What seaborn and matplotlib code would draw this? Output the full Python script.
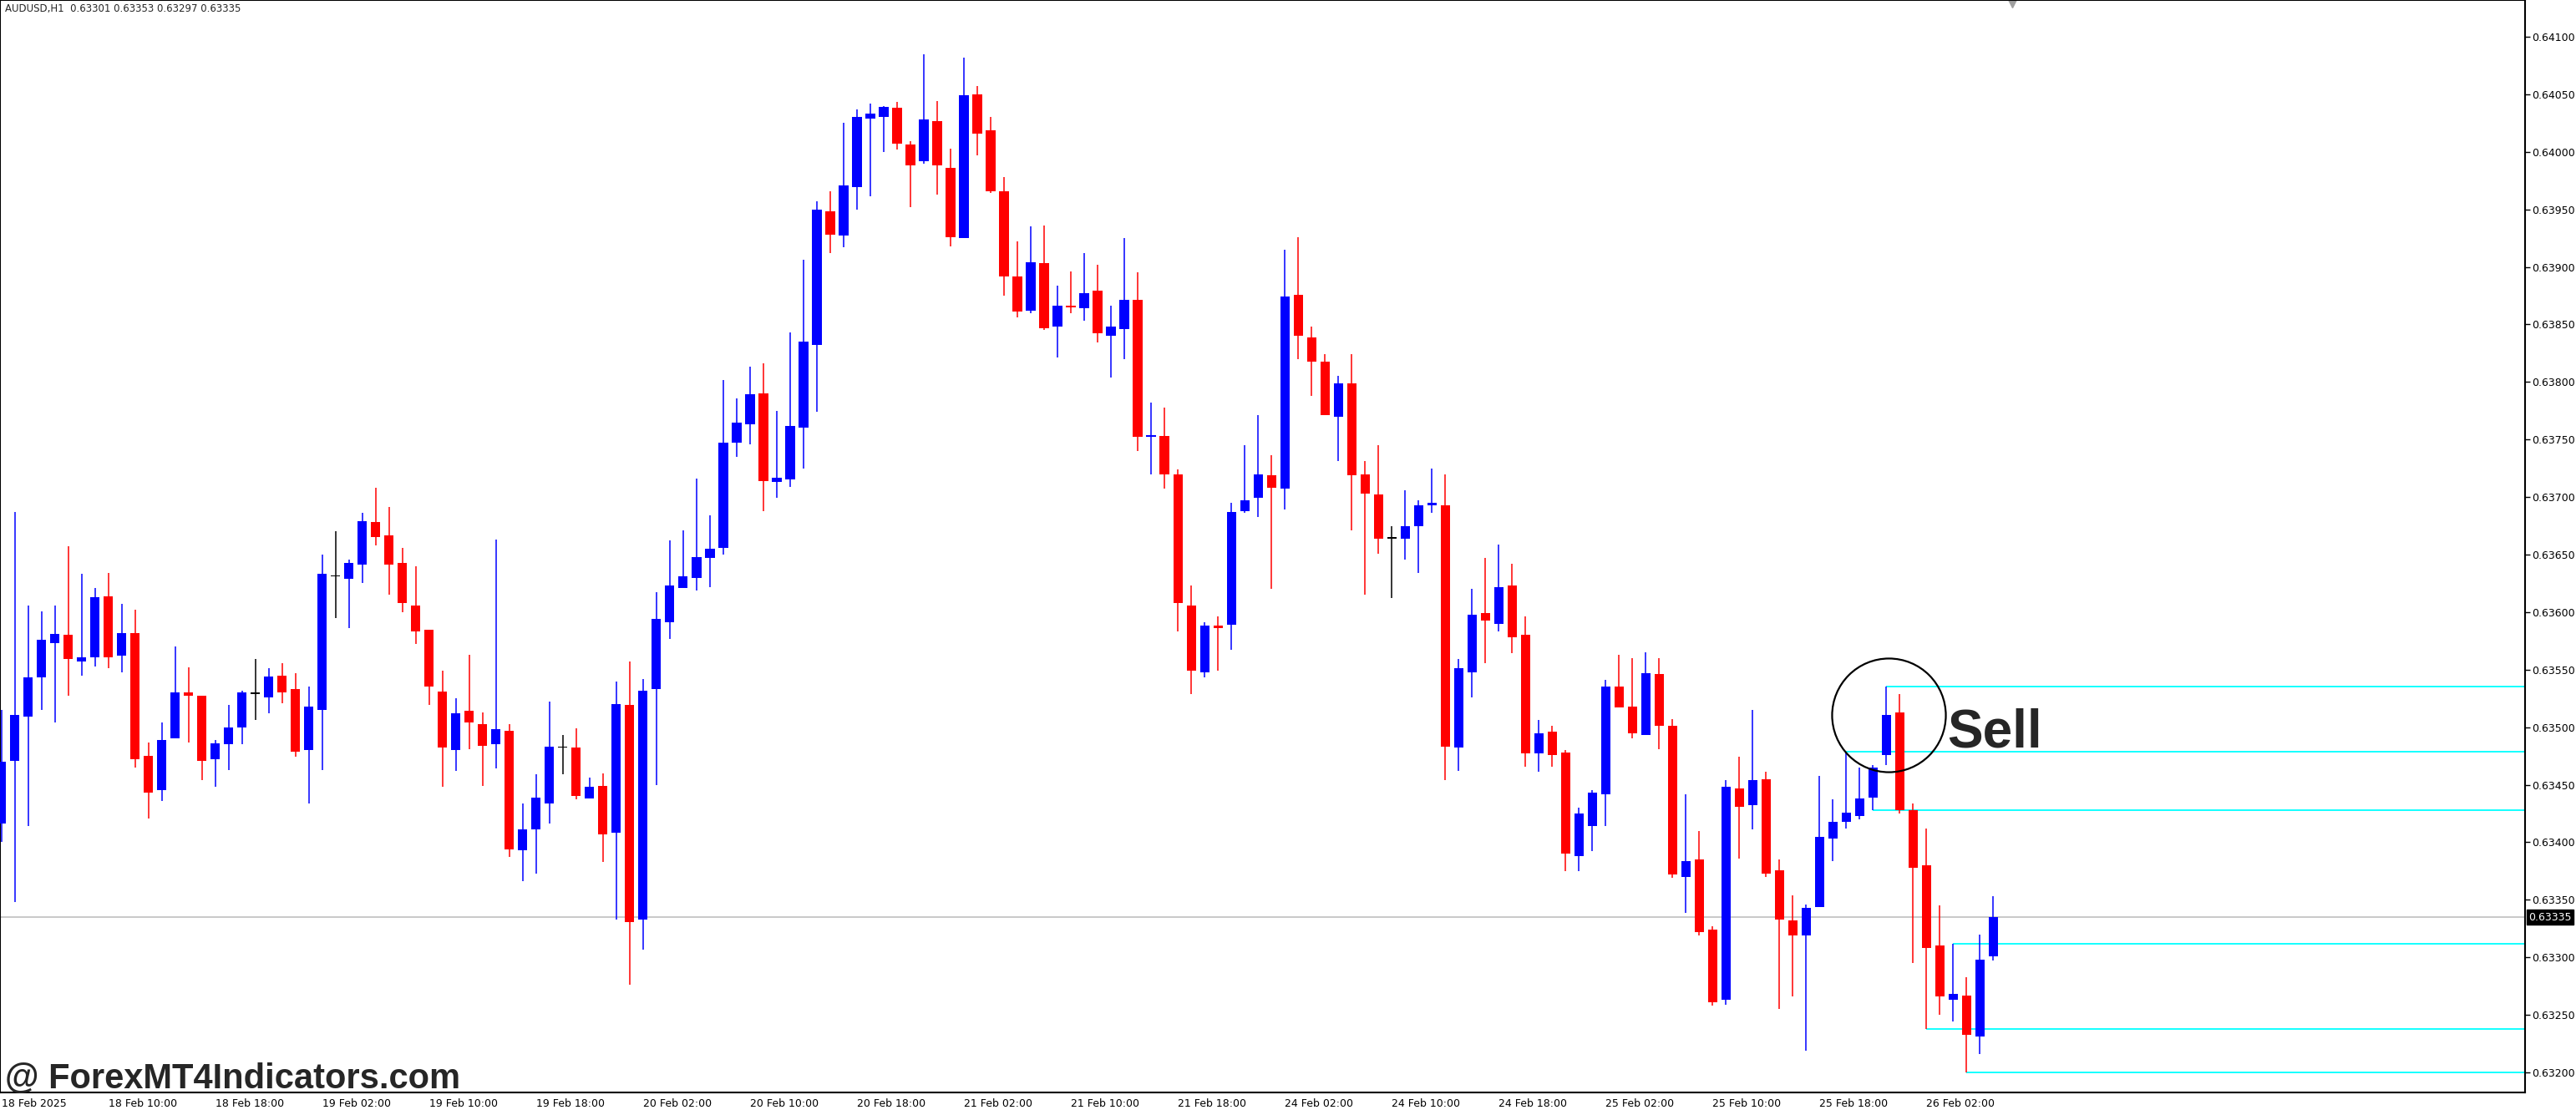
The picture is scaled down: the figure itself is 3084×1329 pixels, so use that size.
import matplotlib
matplotlib.use('Agg')
import numpy as np
import matplotlib.pyplot as plt
import matplotlib.transforms as mtransforms
import seaborn as sns

sns.set_style("white")
plt.rcParams['font.family'] = ['DejaVu Sans']

# AUDUSD H1 candles
opens = [0.63416, 0.63471, 0.63509, 0.63543, 0.63573, 0.63580, 0.63557, 0.63561, 0.63614, 0.63562,
         0.63582, 0.63475, 0.63445, 0.63490, 0.63530, 0.63527, 0.63472, 0.63485, 0.63500, 0.63529,
         0.63526, 0.63545, 0.63533, 0.63480, 0.63515, 0.63631, 0.63629, 0.63641, 0.63678, 0.63667,
         0.63643, 0.63606, 0.63585, 0.63531, 0.63480, 0.63514, 0.63503, 0.63485, 0.63497, 0.63393,
         0.63411, 0.63434, 0.63482, 0.63482, 0.63438, 0.63449, 0.63408, 0.63519, 0.63333, 0.63533,
         0.63591, 0.63621, 0.63630, 0.63647, 0.63656, 0.63747, 0.63763, 0.63790, 0.63713, 0.63715,
         0.63760, 0.63832, 0.63948, 0.63927, 0.63969, 0.64029, 0.64030, 0.64038, 0.64006, 0.63992,
         0.64027, 0.63986, 0.63925, 0.64050, 0.64019, 0.63966, 0.63892, 0.63862, 0.63903, 0.63848,
         0.63866, 0.63864, 0.63879, 0.63840, 0.63846, 0.63871, 0.63752, 0.63753, 0.63720, 0.63606,
         0.63548, 0.63588, 0.63589, 0.63688, 0.63699, 0.63719, 0.63707, 0.63876, 0.63839, 0.63818,
         0.63770, 0.63799, 0.63720, 0.63702, 0.63664, 0.63664, 0.63675, 0.63693, 0.63693, 0.63482,
         0.63548, 0.63599, 0.63590, 0.63623, 0.63580, 0.63477, 0.63496, 0.63478, 0.63388, 0.63414,
         0.63442, 0.63535, 0.63518, 0.63493, 0.63546, 0.63501, 0.63370, 0.63385, 0.63324, 0.63263,
         0.63447, 0.63432, 0.63455, 0.63376, 0.63332, 0.63319, 0.63344, 0.63403, 0.63418, 0.63423,
         0.63439, 0.63476, 0.63513, 0.63428, 0.63380, 0.63310, 0.63263, 0.63267, 0.63231, 0.63301]
highs = [0.63515, 0.63687, 0.63606, 0.63601, 0.63606, 0.63657, 0.63633, 0.63621, 0.63634, 0.63607,
         0.63602, 0.63487, 0.63504, 0.63570, 0.63552, 0.63527, 0.63489, 0.63519, 0.63532, 0.63559,
         0.63551, 0.63556, 0.63547, 0.63535, 0.63650, 0.63670, 0.63646, 0.63686, 0.63708, 0.63691,
         0.63656, 0.63640, 0.63585, 0.63549, 0.63525, 0.63563, 0.63513, 0.63663, 0.63503, 0.63434,
         0.63459, 0.63522, 0.63493, 0.63499, 0.63456, 0.63460, 0.63540, 0.63557, 0.63542, 0.63617,
         0.63662, 0.63671, 0.63716, 0.63684, 0.63802, 0.63786, 0.63813, 0.63816, 0.63775, 0.63843,
         0.63906, 0.63957, 0.63966, 0.64025, 0.64037, 0.64042, 0.64040, 0.64043, 0.64009, 0.64085,
         0.64044, 0.64003, 0.64082, 0.64057, 0.64030, 0.63978, 0.63922, 0.63935, 0.63936, 0.63884,
         0.63896, 0.63912, 0.63902, 0.63866, 0.63925, 0.63895, 0.63782, 0.63778, 0.63724, 0.63623,
         0.63591, 0.63596, 0.63695, 0.63745, 0.63771, 0.63736, 0.63915, 0.63926, 0.63848, 0.63824,
         0.63805, 0.63824, 0.63731, 0.63745, 0.63675, 0.63706, 0.63697, 0.63725, 0.63720, 0.63559,
         0.63620, 0.63647, 0.63659, 0.63642, 0.63596, 0.63506, 0.63501, 0.63480, 0.63430, 0.63445,
         0.63541, 0.63563, 0.63560, 0.63565, 0.63560, 0.63507, 0.63442, 0.63410, 0.63327, 0.63454,
         0.63474, 0.63515, 0.63461, 0.63385, 0.63354, 0.63346, 0.63458, 0.63437, 0.63479, 0.63465,
         0.63467, 0.63535, 0.63529, 0.63434, 0.63412, 0.63345, 0.63312, 0.63283, 0.63320, 0.63353]
lows = [0.63400, 0.63348, 0.63414, 0.63515, 0.63504, 0.63527, 0.63545, 0.63553, 0.63551, 0.63548,
        0.63465, 0.63421, 0.63436, 0.63490, 0.63487, 0.63454, 0.63448, 0.63463, 0.63485, 0.63506,
        0.63512, 0.63521, 0.63474, 0.63434, 0.63463, 0.63595, 0.63586, 0.63625, 0.63658, 0.63615,
        0.63600, 0.63572, 0.63519, 0.63448, 0.63462, 0.63481, 0.63449, 0.63464, 0.63387, 0.63366,
        0.63373, 0.63416, 0.63459, 0.63437, 0.63438, 0.63383, 0.63333, 0.63276, 0.63307, 0.63450,
        0.63577, 0.63621, 0.63619, 0.63622, 0.63650, 0.63735, 0.63746, 0.63688, 0.63699, 0.63709,
        0.63725, 0.63774, 0.63912, 0.63917, 0.63950, 0.63961, 0.64000, 0.64002, 0.63952, 0.63990,
        0.63963, 0.63918, 0.63925, 0.63997, 0.63964, 0.63875, 0.63856, 0.63860, 0.63845, 0.63821,
        0.63860, 0.63853, 0.63834, 0.63804, 0.63820, 0.63740, 0.63720, 0.63707, 0.63583, 0.63529,
        0.63543, 0.63549, 0.63567, 0.63686, 0.63683, 0.63620, 0.63689, 0.63820, 0.63788, 0.63771,
        0.63731, 0.63671, 0.63615, 0.63651, 0.63612, 0.63646, 0.63634, 0.63686, 0.63454, 0.63462,
        0.63526, 0.63556, 0.63583, 0.63564, 0.63466, 0.63461, 0.63466, 0.63375, 0.63375, 0.63392,
        0.63414, 0.63517, 0.63490, 0.63493, 0.63481, 0.63369, 0.63339, 0.63319, 0.63258, 0.63259,
        0.63386, 0.63411, 0.63370, 0.63255, 0.63266, 0.63219, 0.63344, 0.63384, 0.63412, 0.63420,
        0.63428, 0.63467, 0.63425, 0.63295, 0.63238, 0.63250, 0.63244, 0.63200, 0.63216, 0.63297]
closes = [0.63470, 0.63511, 0.63543, 0.63576, 0.63581, 0.63559, 0.63561, 0.63613, 0.63561, 0.63582,
          0.63472, 0.63443, 0.63489, 0.63530, 0.63527, 0.63471, 0.63486, 0.63500, 0.63530, 0.63529,
          0.63544, 0.63530, 0.63479, 0.63518, 0.63633, 0.63631, 0.63643, 0.63679, 0.63665, 0.63641,
          0.63608, 0.63583, 0.63535, 0.63482, 0.63512, 0.63504, 0.63484, 0.63498, 0.63394, 0.63411,
          0.63439, 0.63483, 0.63482, 0.63440, 0.63448, 0.63407, 0.63520, 0.63331, 0.63532, 0.63594,
          0.63623, 0.63631, 0.63648, 0.63655, 0.63747, 0.63765, 0.63789, 0.63714, 0.63717, 0.63762,
          0.63835, 0.63950, 0.63928, 0.63971, 0.64030, 0.64033, 0.64039, 0.64007, 0.63988, 0.64028,
          0.63988, 0.63926, 0.64049, 0.64016, 0.63966, 0.63892, 0.63861, 0.63904, 0.63847, 0.63866,
          0.63865, 0.63877, 0.63842, 0.63848, 0.63871, 0.63752, 0.63754, 0.63720, 0.63608, 0.63549,
          0.63588, 0.63586, 0.63687, 0.63697, 0.63720, 0.63708, 0.63874, 0.63840, 0.63818, 0.63771,
          0.63799, 0.63719, 0.63703, 0.63664, 0.63664, 0.63675, 0.63693, 0.63695, 0.63483, 0.63551,
          0.63598, 0.63593, 0.63622, 0.63578, 0.63477, 0.63495, 0.63476, 0.63390, 0.63425, 0.63443,
          0.63535, 0.63517, 0.63495, 0.63547, 0.63501, 0.63372, 0.63384, 0.63322, 0.63261, 0.63448,
          0.63431, 0.63454, 0.63373, 0.63333, 0.63319, 0.63343, 0.63405, 0.63418, 0.63426, 0.63438,
          0.63465, 0.63511, 0.63428, 0.63378, 0.63308, 0.63266, 0.63268, 0.63233, 0.63298, 0.63335]

# horizontal levels: (start candle, price)
level_starts = [141, 138, 140, 146, 144, 147]
level_prices = [0.63535, 0.63479, 0.63428, 0.63312, 0.63238, 0.63200]

tick_labels = ['18 Feb 2025', '18 Feb 10:00', '18 Feb 18:00', '19 Feb 02:00', '19 Feb 10:00',
               '19 Feb 18:00', '20 Feb 02:00', '20 Feb 10:00', '20 Feb 18:00', '21 Feb 02:00',
               '21 Feb 10:00', '21 Feb 18:00', '24 Feb 02:00', '24 Feb 10:00', '24 Feb 18:00',
               '25 Feb 02:00', '25 Feb 10:00', '25 Feb 18:00', '26 Feb 02:00']
price_ticks = [0.63200, 0.63250, 0.63300, 0.63350, 0.63400, 0.63450, 0.63500, 0.63550, 0.63600,
               0.63650, 0.63700, 0.63750, 0.63800, 0.63850, 0.63900, 0.63950, 0.64000, 0.64050, 0.64100]
current_price = 0.63335

o = np.array(opens); h = np.array(highs); l = np.array(lows); c = np.array(closes)
x = np.arange(len(o))
colors = np.where(c > o, '#0000ff', np.where(c < o, '#ff0000', '#000000'))

fig = plt.figure(figsize=(30.84, 13.29), dpi=100)
ax = fig.add_axes([0.0, 0.0158, 0.9802, 0.9842])

ax.axhline(current_price, color='#c0c0c0', lw=1.2, zorder=1)
for s, p in zip(level_starts, level_prices):
    ax.hlines(p, s, 200, color='#00ffff', lw=1.3, zorder=1)

ax.vlines(x, l, h, colors=colors, lw=1.1, zorder=2)
body_lo = np.minimum(o, c)
body_h = np.maximum(np.abs(c - o), 0.000012)
ax.bar(x, body_h, bottom=body_lo, width=0.69, color=colors, lw=0, zorder=3)

# signal annotation
ax.plot([141.2], [0.63511], marker='o', ms=98, mfc='none', mec='black', mew=1.6, zorder=4)
ax.text(145.6, 0.63495, 'Sell', fontsize=46, fontweight='bold', family='Liberation Sans',
        va='center', ha='left', zorder=5)

ax.set_xlim(-0.12, 188.8)
ax.set_ylim(0.631826, 0.641319)

ax.yaxis.tick_right()
ax.set_yticks(price_ticks)
ax.set_yticklabels([f'{p:.5f}' for p in price_ticks], fontsize=9)
ax.set_xticks(np.arange(len(tick_labels)) * 8)
ax.set_xticklabels(tick_labels, fontsize=9, ha='left')
ax.tick_params(axis='both', direction='out', length=4, width=1, colors='black', pad=2)
ax.tick_params(axis='x', pad=1)
for sp in ax.spines.values():
    sp.set_color('black')
    sp.set_linewidth(1.5)

trans = mtransforms.blended_transform_factory(ax.transAxes, ax.transData)
ax.text(1.0015, current_price, f'{current_price:.5f}', transform=trans, fontsize=9, color='white',
        va='center', ha='left', bbox=dict(facecolor='black', edgecolor='black', pad=1.5))

ax.text(0.002, 0.997, 'AUDUSD,H1  0.63301 0.63353 0.63297 0.63335', transform=ax.transAxes,
        fontsize=8.5, va='top', ha='left')
ax.plot([0.797], [0.997], marker='v', ms=7, color='#a0a0a0', transform=ax.transAxes, clip_on=False)

fig.text(0.002, 0.028, '@ ForexMT4Indicators.com', fontsize=30, fontweight='bold',
         family='Liberation Sans', va='center', ha='left')

fig.savefig('out.png', dpi=100, facecolor='white')
